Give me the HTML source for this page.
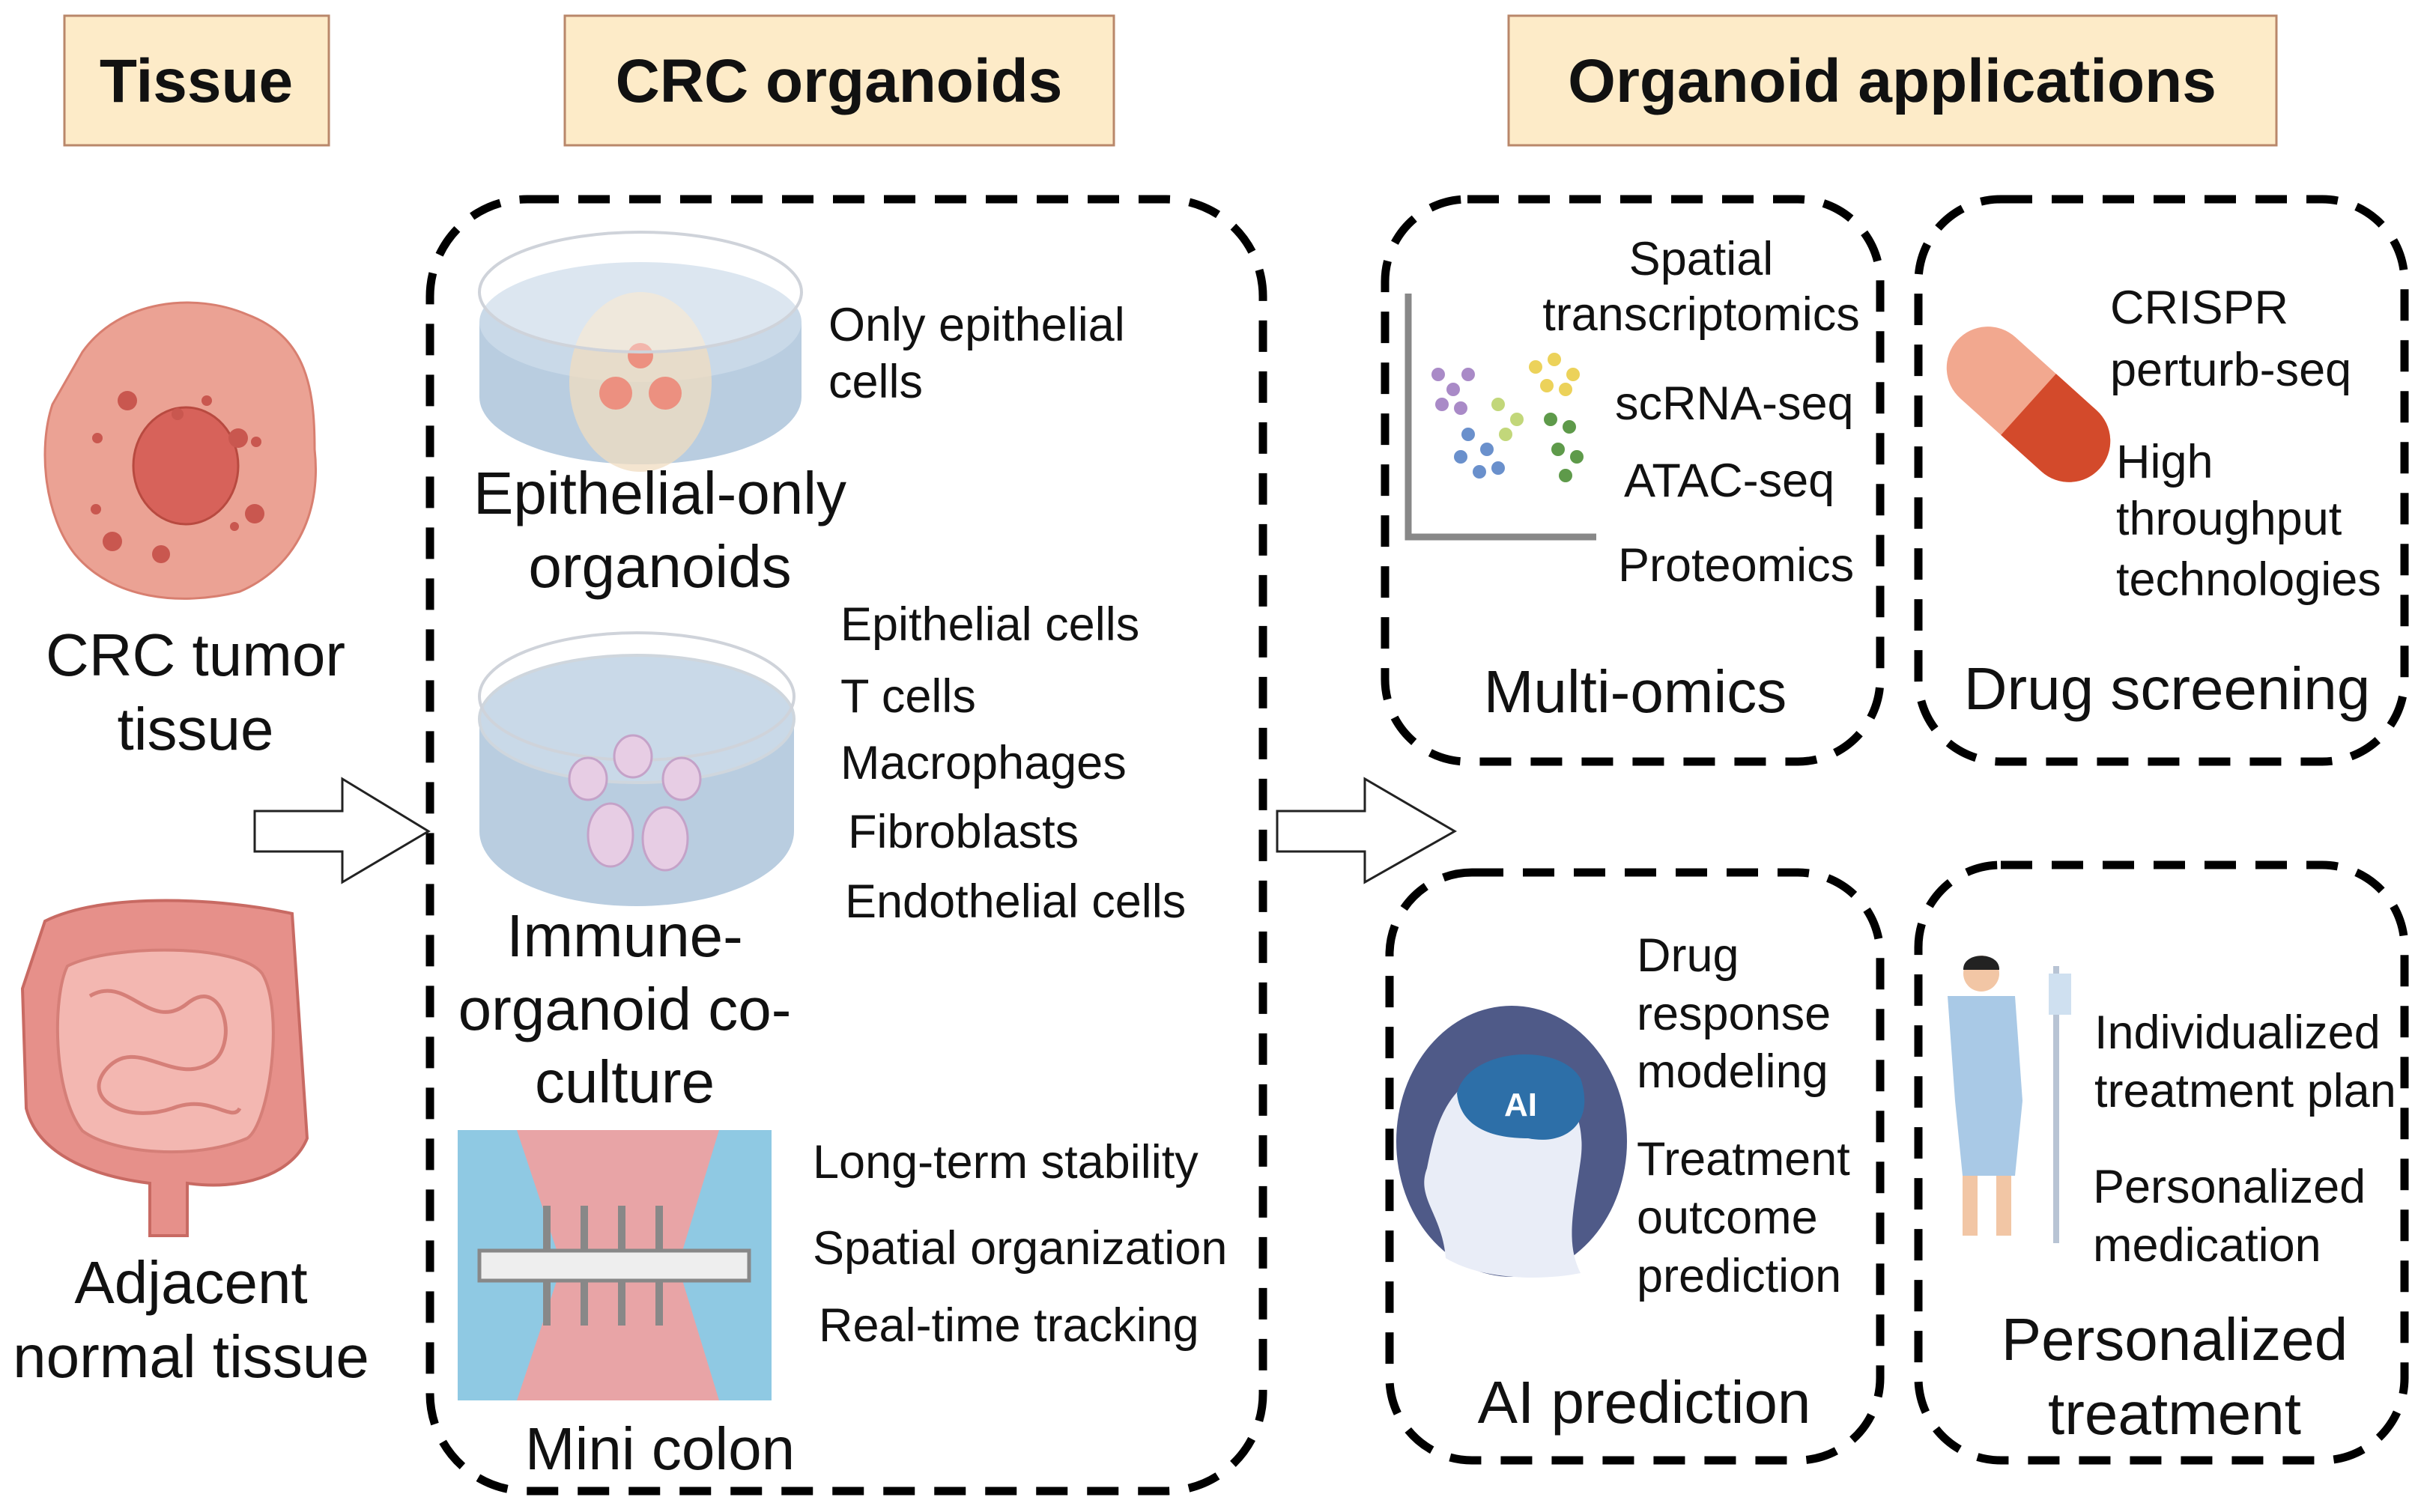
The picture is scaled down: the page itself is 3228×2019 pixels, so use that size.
<!DOCTYPE html>
<html><head><meta charset="utf-8"><style>
html,body{margin:0;padding:0;background:#fff;}
svg{display:block;}
text{font-family:"Liberation Sans",Arial,sans-serif;fill:#111;}
</style></head><body>
<svg width="3228" height="2019" viewBox="0 0 3228 2019" xmlns="http://www.w3.org/2000/svg">
<g fill="#fdebc8" stroke="#b9876a" stroke-width="3">
<rect x="86" y="21" width="353" height="173"/>
<rect x="754" y="21" width="733" height="173"/>
<rect x="2014" y="21" width="1025" height="173"/>
</g>
<g font-weight="bold" font-size="82" text-anchor="middle">
<text x="262" y="136">Tissue</text>
<text x="1120" y="136">CRC organoids</text>
<text x="2526" y="136">Organoid applications</text>
</g>
<g fill="none" stroke="#000" stroke-width="11" stroke-dasharray="42 26">
<rect x="574" y="266" width="1112" height="1725" rx="130"/>
<rect x="1849" y="266" width="661" height="751" rx="110"/>
<rect x="2561" y="266" width="649" height="751" rx="110"/>
<rect x="1855" y="1165" width="655" height="785" rx="110"/>
<rect x="2561" y="1155" width="649" height="795" rx="110"/>
</g>
<g fill="#fff" stroke="#222" stroke-width="3">
<polygon points="340,1083 457,1083 457,1040 572,1110 457,1178 457,1137 340,1137"/>
<polygon points="1705,1083 1822,1083 1822,1040 1942,1110 1822,1178 1822,1137 1705,1137"/>
</g>
<path d="M110,470 C160,400 260,390 330,420 C410,450 420,520 420,600 C430,690 390,760 320,790 C240,810 150,800 100,740 C60,690 50,600 70,540 Z" fill="#eba294" stroke="#d87f70" stroke-width="3"/>
<ellipse cx="248" cy="622" rx="70" ry="78" fill="#d7625a" stroke="#b84a40" stroke-width="3"/>
<g fill="#c9574f">
<circle cx="170" cy="535" r="13"/><circle cx="237" cy="553" r="8"/><circle cx="276" cy="535" r="7"/><circle cx="318" cy="585" r="13"/><circle cx="342" cy="590" r="7"/><circle cx="130" cy="585" r="7"/><circle cx="340" cy="686" r="13"/><circle cx="313" cy="703" r="6"/><circle cx="150" cy="723" r="13"/><circle cx="215" cy="740" r="12"/><circle cx="128" cy="680" r="7"/>
</g>
<path d="M60,1230 C140,1190 300,1200 390,1220 L410,1520 C390,1570 320,1590 250,1580 L250,1650 L200,1650 L200,1580 C120,1570 50,1540 35,1480 L30,1320 Z" fill="#e6908a" stroke="#c86a63" stroke-width="4"/>
<path d="M90,1290 C150,1260 320,1260 350,1300 C380,1350 360,1500 330,1520 C260,1550 150,1540 110,1510 C70,1460 70,1330 90,1290 Z" fill="#f3b7b1" stroke="#d57f78" stroke-width="4"/>
<g fill="none" stroke="#d57f78" stroke-width="5"><path d="M120,1330 C170,1300 200,1380 250,1340 C300,1300 320,1400 280,1420 C230,1450 180,1380 140,1430 C110,1470 170,1500 230,1480 C280,1460 310,1500 320,1480"/></g>
<!-- dish 1 -->
<ellipse cx="855" cy="530" rx="215" ry="90" fill="#b9cde0"/>
<rect x="640" y="430" width="430" height="100" fill="#b9cde0"/>
<ellipse cx="855" cy="430" rx="215" ry="80" fill="#c9d9e8"/>
<ellipse cx="855" cy="510" rx="95" ry="120" fill="#f0dcc0" opacity=".75"/>
<circle cx="855" cy="475" r="17" fill="#ec9080"/><circle cx="822" cy="525" r="22" fill="#ec9080"/><circle cx="888" cy="525" r="22" fill="#ec9080"/>
<ellipse cx="855" cy="390" rx="215" ry="80" fill="#fff" fill-opacity=".35" stroke="#cfd3da" stroke-width="4"/>
<!-- dish 2 -->
<ellipse cx="850" cy="1110" rx="210" ry="100" fill="#b9cde0"/>
<rect x="640" y="960" width="420" height="150" fill="#b9cde0"/>
<ellipse cx="850" cy="960" rx="210" ry="85" fill="#c9d9e8" stroke="#cfd6dd" stroke-width="4"/>
<ellipse cx="850" cy="930" rx="210" ry="85" fill="none" stroke="#cfd3da" stroke-width="4"/>
<g fill="#e7cde4" stroke="#c4a2c8" stroke-width="3">
<ellipse cx="785" cy="1040" rx="25" ry="28"/><ellipse cx="845" cy="1010" rx="25" ry="28"/><ellipse cx="910" cy="1040" rx="25" ry="28"/><ellipse cx="815" cy="1115" rx="30" ry="42"/><ellipse cx="888" cy="1120" rx="30" ry="42"/>
</g>
<rect x="611" y="1509" width="419" height="361" fill="#e8a4a6"/>
<path d="M611,1509 L690,1509 L750,1690 L690,1870 L611,1870 Z" fill="#8fc9e3"/>
<path d="M1030,1509 L960,1509 L905,1690 L960,1870 L1030,1870 Z" fill="#8fc9e3"/>
<rect x="640" y="1670" width="360" height="40" fill="#eee" stroke="#888" stroke-width="5"/>
<g fill="none" stroke="#888" stroke-width="10"><path d="M730,1670 v-60 M780,1670 v-60 M830,1670 v-60 M880,1670 v-60 M730,1710 v60 M780,1710 v60 M830,1710 v60 M880,1710 v60"/></g>
<path d="M1880,392 V717 H2131" fill="none" stroke="#888" stroke-width="9"/>
<g fill="#a98ac7"><circle cx="1920" cy="500" r="9"/><circle cx="1940" cy="520" r="9"/><circle cx="1960" cy="500" r="9"/><circle cx="1925" cy="540" r="9"/><circle cx="1950" cy="545" r="9"/></g>
<g fill="#6a90cc"><circle cx="1960" cy="580" r="9"/><circle cx="1985" cy="600" r="9"/><circle cx="1950" cy="610" r="9"/><circle cx="2000" cy="625" r="9"/><circle cx="1975" cy="630" r="9"/></g>
<g fill="#c2d77a"><circle cx="2000" cy="540" r="9"/><circle cx="2025" cy="560" r="9"/><circle cx="2010" cy="580" r="9"/></g>
<g fill="#ecd25a"><circle cx="2050" cy="490" r="9"/><circle cx="2075" cy="480" r="9"/><circle cx="2100" cy="500" r="9"/><circle cx="2065" cy="515" r="9"/><circle cx="2090" cy="520" r="9"/></g>
<g fill="#5e9a4a"><circle cx="2070" cy="560" r="9"/><circle cx="2095" cy="570" r="9"/><circle cx="2080" cy="600" r="9"/><circle cx="2105" cy="610" r="9"/><circle cx="2090" cy="635" r="9"/></g>
<g transform="rotate(42 2708 540)"><rect x="2580" y="485" width="256" height="110" rx="55" fill="#f2a88f"/><path d="M2708,485 H2781 A55,55 0 0 1 2781,595 H2708 Z" fill="#d34a2b"/></g>
<ellipse cx="2018" cy="1524" rx="154" ry="181" fill="#4f5a88"/>
<path d="M1930,1680 C1925,1620 1890,1600 1905,1560 C1915,1510 1930,1440 2000,1430 C2080,1420 2120,1480 2110,1550 C2100,1620 2090,1660 2110,1700 C2060,1710 1980,1710 1930,1680 Z" fill="#e9edf7"/>
<path d="M1945,1460 C1960,1400 2080,1390 2110,1440 C2130,1500 2090,1530 2040,1520 C2000,1520 1950,1510 1945,1460 Z" fill="#2d6fa8"/>
<text x="2030" y="1490" font-size="44" font-weight="bold" text-anchor="middle" style="fill:#fff">AI</text>
<line x1="2745" y1="1290" x2="2745" y2="1660" stroke="#b8c4d4" stroke-width="8"/>
<rect x="2735" y="1300" width="30" height="55" fill="#cfe0f0"/>
<path d="M2600,1330 L2690,1330 L2700,1470 L2690,1570 L2620,1570 L2610,1470 Z" fill="#a9c9e6"/>
<circle cx="2645" cy="1300" r="24" fill="#f2c6a5"/><path d="M2621,1295 C2620,1270 2670,1270 2669,1295 Z" fill="#222"/>
<rect x="2620" y="1570" width="20" height="80" fill="#f2c6a5"/><rect x="2665" y="1570" width="20" height="80" fill="#f2c6a5"/>
<g font-size="80" text-anchor="middle">
<text x="261" y="902">CRC tumor</text><text x="261" y="1001">tissue</text>
<text x="255" y="1740">Adjacent</text><text x="255" y="1839">normal tissue</text>
<text x="881" y="686">Epithelial-only</text><text x="881" y="784">organoids</text>
<text x="834" y="1277">Immune-</text><text x="834" y="1375">organoid co-</text><text x="834" y="1472">culture</text>
<text x="881" y="1962">Mini colon</text>
<text x="2183" y="951">Multi-omics</text>
<text x="2893" y="947">Drug screening</text>
<text x="2195" y="1900">AI prediction</text>
<text x="2903" y="1816">Personalized</text><text x="2903" y="1915">treatment</text>
</g>
<g font-size="63">
<text x="1106" y="455">Only epithelial</text><text x="1106" y="531">cells</text>
<text x="1122" y="855">Epithelial cells</text><text x="1122" y="951">T cells</text><text x="1122" y="1040">Macrophages</text><text x="1132" y="1132">Fibroblasts</text><text x="1128" y="1225">Endothelial cells</text>
<text x="1085" y="1573">Long-term stability</text><text x="1085" y="1688">Spatial organization</text><text x="1093" y="1791">Real-time tracking</text>
<text x="2271" y="367" text-anchor="middle">Spatial</text><text x="2271" y="441" text-anchor="middle">transcriptomics</text>
<text x="2156" y="560">scRNA-seq</text><text x="2168" y="663">ATAC-seq</text><text x="2160" y="776">Proteomics</text>
<text x="2817" y="432">CRISPR</text><text x="2817" y="515">perturb-seq</text><text x="2825" y="638">High</text><text x="2825" y="714">throughput</text><text x="2825" y="795">technologies</text>
<text x="2185" y="1297">Drug</text><text x="2185" y="1375">response</text><text x="2185" y="1452">modeling</text><text x="2185" y="1569">Treatment</text><text x="2185" y="1647">outcome</text><text x="2185" y="1725">prediction</text>
<text x="2796" y="1400">Individualized</text><text x="2796" y="1478">treatment plan</text><text x="2794" y="1606">Personalized</text><text x="2794" y="1684">medication</text>
</g>
</svg>
</body></html>
